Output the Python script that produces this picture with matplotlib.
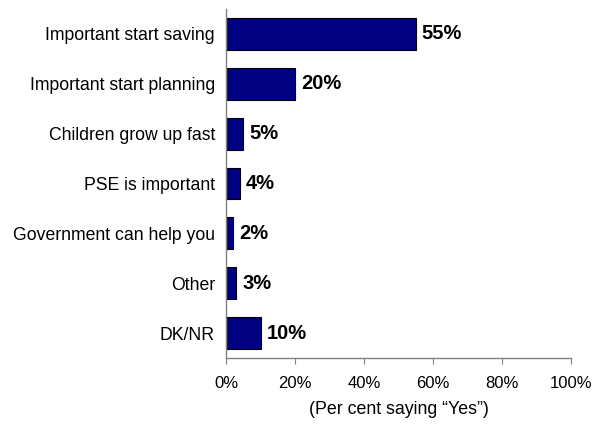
import numpy as np
import matplotlib.pyplot as plt

plt.rcParams['font.family'] = ['Liberation Sans', 'DejaVu Sans']

categories = ['Important start saving', 'Important start planning', 'Children grow up fast',
              'PSE is important', 'Government can help you', 'Other', 'DK/NR']
values = [55, 20, 5, 4, 2, 3, 10]
xticks = [0, 20, 40, 60, 80, 100]

fig = plt.figure(figsize=(5.94, 4.28), dpi=100)
ax = fig.add_axes([226 / 594, 1 - 358 / 428, 345 / 594, 349 / 428])

y = np.arange(len(categories))
ax.barh(y, values, height=0.64, color='#000080', edgecolor='black', linewidth=0.8)
for yi, v in zip(y, values):
    ax.text(v + 1.7, yi, f'{v}%', va='center', ha='left', fontsize=14.5, fontweight='bold')

ax.set_xlim(0, 100)
ax.set_ylim(len(categories) - 0.5, -0.5)
ax.set_yticks(y)
ax.set_yticklabels(categories, fontsize=12.7)
ax.tick_params(axis='y', length=0, pad=8)
ax.set_xticks(xticks)
ax.set_xticklabels([f'{t}%' for t in xticks], fontsize=12)
ax.tick_params(axis='x', direction='out', length=4, color='#808080', pad=9)
ax.set_xlabel('(Per cent saying \u201cYes\u201d)', fontsize=12.8, labelpad=7)

for s in ['top', 'right']:
    ax.spines[s].set_visible(False)
for s in ['left', 'bottom']:
    ax.spines[s].set_color('#808080')
    ax.spines[s].set_linewidth(1.0)

fig.savefig('out.png', dpi=100)
